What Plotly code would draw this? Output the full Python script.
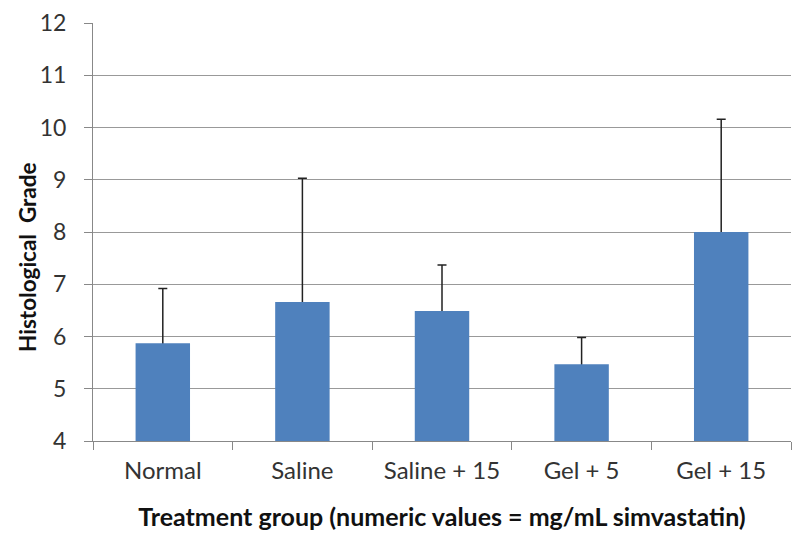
import plotly.graph_objects as go

categories = ["Normal", "Saline", "Saline + 15", "Gel + 5", "Gel + 15"]
means = [5.87, 6.66, 6.49, 5.47, 8.0]
errors_plus = [1.05, 2.37, 0.88, 0.51, 2.16]
y_ticks = [4, 5, 6, 7, 8, 9, 10, 11, 12]

# error bars drawn on a transparent copy of the bars, then covered below the bar top
hidden_minus = [0.1] * len(means)

fig = go.Figure()
fig.add_trace(go.Bar(
    x=categories, y=means,
    marker=dict(color="rgba(0,0,0,0)", line=dict(width=0)),
    error_y=dict(type="data", symmetric=False, array=errors_plus, arrayminus=hidden_minus,
                 color="#222222", thickness=1.5, width=4.5),
    width=0.39, hoverinfo="skip",
))
fig.add_trace(go.Bar(
    x=categories, y=means,
    marker=dict(color="#4F81BD", line=dict(width=0)),
    width=0.39,
))

font_family = "Lato, 'Open Sans', Arial, sans-serif"
fig.update_layout(
    width=784, height=528,
    margin=dict(l=85, r=1, t=15, b=95),
    paper_bgcolor="white", plot_bgcolor="white",
    showlegend=False,
    barmode="overlay",
    font=dict(family=font_family, color="#333333", size=23),
    xaxis=dict(
        type="category",
        automargin=False,
        tickson="boundaries",
        ticks="outside", ticklen=8, tickcolor="#888888", tickwidth=1,
        showline=True, linecolor="#888888", linewidth=1,
        showgrid=False,
        tickfont=dict(size=24, color="#333333"),
        ticklabelstandoff=8,
        title=dict(text="<b>Treatment group (numeric values = mg/mL simvastatin)</b>",
                   font=dict(size=25, color="#111111"), standoff=25),
    ),
    yaxis=dict(
        range=[4, 12],
        automargin=False,
        tickvals=y_ticks,
        ticks="outside", ticklen=8, tickcolor="#888888", tickwidth=1,
        showline=True, linecolor="#888888", linewidth=1,
        showgrid=True, gridcolor="#999999", gridwidth=1,
        zeroline=False,
        tickfont=dict(size=23, color="#333333"),
        ticklabelstandoff=13,
    ),
    annotations=[dict(
        text="<b>Histological  Grade</b>",
        xref="paper", yref="paper", x=0, y=0.438,
        xshift=-65, xanchor="center", yanchor="middle",
        textangle=-90, showarrow=False,
        font=dict(size=22.5, color="#111111", family=font_family),
    )],
)

fig.write_html("out.html")
